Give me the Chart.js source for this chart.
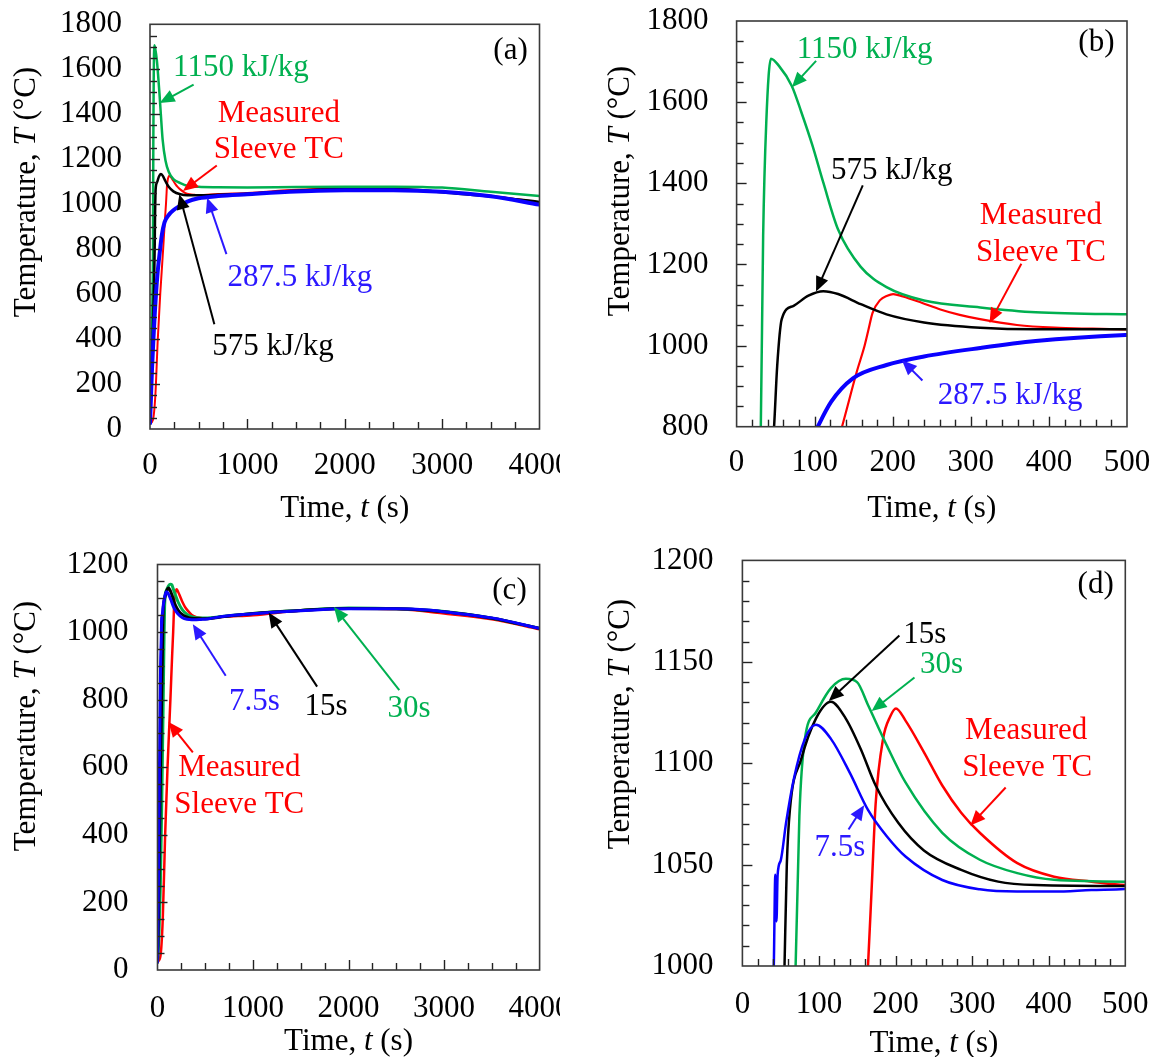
<!DOCTYPE html>
<html><head><meta charset="utf-8">
<script src="https://cdn.jsdelivr.net/npm/chart.js@4.4.1/dist/chart.umd.min.js"></script>
<style>
html,body{margin:0;padding:0;background:#fff;}
#wrap{position:relative;width:1154px;height:1057px;overflow:hidden;background:#fff}
canvas{position:absolute;}
</style></head><body><div id="wrap">
<canvas id="ca" width="560" height="530" style="left:0px;top:0px"></canvas>
<canvas id="cb" width="584" height="530" style="left:570px;top:0px"></canvas>
<canvas id="cc" width="560" height="527" style="left:0px;top:530px"></canvas>
<canvas id="cd" width="584" height="527" style="left:570px;top:530px"></canvas>
</div>
<script>
// ---------------- DATA ----------------
// Panels (a),(b): effect of energy input
const tE1150 = [0, 10, 20, 26, 31, 34, 38, 44, 54, 70.7, 82.6, 97, 111, 130, 159, 192, 240, 312, 383, 498, 700, 1000, 1500, 2000, 2500, 2800, 3000, 3500, 4000];
const TE1150 = [20, 150, 400, 600, 800, 1270, 1550, 1707, 1690, 1640, 1577, 1494, 1402, 1286, 1194, 1144, 1111, 1094, 1082, 1077, 1075, 1074, 1076, 1077, 1077, 1076, 1074, 1055, 1036];
const tE575 = [0, 15, 30, 42, 48, 52, 57.8, 73, 92, 111, 130, 159, 192, 240, 312, 383, 498, 700, 1000, 1500, 2000, 2500, 2800, 3000, 3500, 4000];
const TE575 = [20, 200, 450, 650, 800, 950, 1065, 1098, 1123, 1134, 1127, 1102, 1077, 1057, 1044, 1040, 1040, 1042, 1046, 1060, 1066, 1066, 1062, 1053, 1034, 1010];
const tE287 = [0, 8, 20, 35, 50, 75, 104, 121, 149, 192, 240, 312, 383, 498, 700, 1000, 1500, 2000, 2500, 3000, 3500, 4000];
const TE287 = [20, 120, 260, 400, 520, 680, 800, 861, 919, 952, 973, 994, 1011, 1026, 1036, 1044, 1056, 1062, 1062, 1055, 1035, 998];
// Measured sleeve thermocouple (all panels)
const tMeas = [0, 30, 55, 80, 105, 120, 135, 154, 164, 169, 174, 183.7, 193, 200.5, 213, 237, 261, 285.7, 310, 359, 407, 456, 500, 700, 1000, 1500, 2000, 2500, 3000, 3500, 4000];
const TMeas = [25, 40, 150, 400, 600, 700, 800, 936, 1000, 1040, 1080, 1112, 1123, 1127, 1121, 1105.5, 1089, 1075.6, 1065.7, 1050.7, 1044, 1041.6, 1040, 1045, 1050, 1064, 1070, 1068, 1055, 1038, 1008];
// Panels (c),(d): effect of fill time
const tF75 = [0, 8, 16, 24, 32, 41, 43, 44.5, 46, 50, 57, 67, 81.6, 96, 115.6, 140, 164, 188.5, 213, 261, 310, 358.6, 407, 455.8, 499, 700, 1000, 1500, 2000, 2500, 2837, 3000, 3500, 4000];
const TF75 = [20, 200, 450, 700, 900, 1000, 1045, 1022, 1045, 1052, 1070.6, 1092, 1112, 1119, 1112, 1095.5, 1077, 1064, 1054, 1042.4, 1037.8, 1036.7, 1036.7, 1037.5, 1038, 1047, 1054, 1063, 1069, 1069, 1065, 1060, 1042, 1011];
const tF15 = [0, 10, 20, 35, 48, 55, 58, 62, 76.8, 96, 115.6, 135, 154.5, 174, 203.5, 237, 285.7, 334, 383, 499, 700, 1000, 1500, 2000, 2500, 3000, 3500, 4000];
const TF15 = [20, 150, 350, 650, 880, 1000, 1050, 1077, 1102, 1122, 1130.3, 1122, 1107, 1089, 1070.6, 1057, 1047.4, 1041.6, 1039.9, 1039.4, 1046, 1055, 1064, 1070, 1069, 1060, 1041, 1011];
const tF30 = [0, 15, 30, 45, 60, 69.5, 74.4, 81.6, 96, 115.6, 135, 149.7, 164, 188.5, 213, 261, 310, 359, 407, 499, 700, 1000, 1500, 2000, 2500, 3000, 3500, 4000];
const TF30 = [20, 100, 250, 500, 800, 1000, 1074, 1112, 1125, 1137, 1141.6, 1140, 1128.7, 1108.8, 1090.5, 1065.7, 1052.4, 1045.8, 1042.5, 1041.6, 1047, 1055, 1064, 1071, 1069, 1061, 1041, 1011];
// Axis ticks
const xTicksLong = [0, 1000, 2000, 3000, 4000];
const xTicksShort = [0, 100, 200, 300, 400, 500];
const yTicksA = [0, 200, 400, 600, 800, 1000, 1200, 1400, 1600, 1800];
const yTicksB = [800, 1000, 1200, 1400, 1600, 1800];
const yTicksC = [0, 200, 400, 600, 800, 1000, 1200];
const yTicksD = [1000, 1050, 1100, 1150, 1200];
// Labels
const labE = ['1150 kJ/kg', '575 kJ/kg', '287.5 kJ/kg'];
const labF = ['7.5s', '15s', '30s'];
const labMeas = ['Measured', 'Sleeve TC'];

// ---------------- STYLE ----------------
const FONT = "'Liberation Serif','Times New Roman',serif";
const FS = 31;
const GREEN = '#00B050', RED = '#FF0000', BLUE = '#0A00FF', BLACK = '#000000', BLUET = '#2B18FF';

function pts(ts, Ts){ return ts.map((t,i)=>({x:t, y:Ts[i]})); }
function ds(label, ts, Ts, color, w){
  return {label, data:pts(ts,Ts), borderColor:color, borderWidth:w, pointRadius:0, pointHoverRadius:0,
          fill:false, cubicInterpolationMode:'monotone'};
}

function arrow(ctx, x1, y1, x2, y2, color){
  const ang = Math.atan2(y2-y1, x2-x1), L = 15, W = 6.5;
  const c = Math.cos(ang), s = Math.sin(ang);
  ctx.strokeStyle = color; ctx.fillStyle = color; ctx.lineWidth = 2;
  ctx.beginPath(); ctx.moveTo(x1,y1); ctx.lineTo(x2-L*0.8*c, y2-L*0.8*s); ctx.stroke();
  ctx.beginPath(); ctx.moveTo(x2,y2);
  ctx.lineTo(x2-L*c+W*s, y2-L*s-W*c);
  ctx.lineTo(x2-L*c-W*s, y2-L*s+W*c);
  ctx.closePath(); ctx.fill();
}

function rich(ctx, parts, cx, cy, rot){
  ctx.save();
  ctx.translate(cx, cy); if (rot) ctx.rotate(-Math.PI/2);
  ctx.textBaseline = 'alphabetic'; ctx.fillStyle = '#000';
  let total = 0;
  for (const [t, it] of parts){ ctx.font = (it?'italic ':'') + FS + 'px ' + FONT; total += ctx.measureText(t).width; }
  let x = -total/2;
  for (const [t, it] of parts){ ctx.font = (it?'italic ':'') + FS + 'px ' + FONT; ctx.textAlign='left'; ctx.fillText(t, x, 0); x += ctx.measureText(t).width; }
  ctx.restore();
}

const deco = {
  id: 'deco',
  afterDraw(chart, args, o){
    const ctx = chart.ctx, a = chart.chartArea, xs = chart.scales.x, ys = chart.scales.y;
    ctx.save();
    // inward ticks
    ctx.strokeStyle = '#222'; ctx.lineWidth = 1.4;
    const isMaj = (v, st) => Math.abs(v/st - Math.round(v/st)) < 1e-6;
    for (let v = xs.min + o.xMinor; v < xs.max - 1e-6; v += o.xMinor){
      const px = Math.round(xs.getPixelForValue(v)) + 0.5, L = isMaj(v, o.xStep) ? 10 : 7;
      ctx.beginPath(); ctx.moveTo(px, a.bottom); ctx.lineTo(px, a.bottom - L); ctx.stroke();
    }
    for (let v = ys.min + o.yMinor; v < ys.max - 1e-6; v += o.yMinor){
      const py = Math.round(ys.getPixelForValue(v)) + 0.5, L = isMaj(v - ys.min, o.yStep) ? 10 : 7;
      ctx.beginPath(); ctx.moveTo(a.left, py); ctx.lineTo(a.left + L, py); ctx.stroke();
    }
    // frame
    ctx.strokeStyle = '#3a3a3a'; ctx.lineWidth = 1.6;
    ctx.strokeRect(a.left, a.top, a.right - a.left, a.bottom - a.top);
    // annotations
    ctx.font = FS + 'px ' + FONT; ctx.textBaseline = 'alphabetic';
    for (const n of o.notes){
      if (n.arrow){
        const [x1,y1,x2,y2] = n.arrow;
        arrow(ctx, xs.getPixelForValue(x1), ys.getPixelForValue(y1), xs.getPixelForValue(x2), ys.getPixelForValue(y2), n.color);
      }
      if (n.text){
        ctx.fillStyle = n.color; ctx.textAlign = n.align || 'center';
        ctx.fillText(n.text, xs.getPixelForValue(n.x), ys.getPixelForValue(n.y));
      }
    }
    ctx.restore();
    // axis titles
    rich(ctx, [['Temperature, ',false],['T',true],[' (\u00B0C)',false]], o.yTitle[0], o.yTitle[1], true);
    rich(ctx, [['Time, ',false],['t',true],[' (s)',false]], (a.left + a.right)/2, o.xTitleY, false);
  }
};

function makeChart(id, cfg){
  const tickFont = {family: FONT, size: FS};
  return new Chart(document.getElementById(id), {
    type: 'line',
    data: {datasets: cfg.datasets},
    plugins: [deco],
    options: {
      responsive: false, animation: false, devicePixelRatio: 1,
      layout: {padding: {left: 0, right: cfg.padR, top: cfg.padT, bottom: 0}},
      plugins: {legend: {display: false}, tooltip: {enabled: false},
        deco: {xMinor: cfg.xMinor, xStep: cfg.xTicks[1]-cfg.xTicks[0], yMinor: cfg.yMinor, yStep: cfg.yTicks[1]-cfg.yTicks[0],
               notes: cfg.notes, yTitle: cfg.yTitle, xTitleY: cfg.xTitleY}},
      scales: {
        x: {type: 'linear', min: cfg.xTicks[0], max: cfg.xTicks[cfg.xTicks.length-1],
            grid: {display: false, drawTicks: false}, border: {display: false},
            afterBuildTicks: s => { s.ticks = cfg.xTicks.map(v => ({value: v})); },
            ticks: {font: tickFont, color: '#000', padding: cfg.xPad, autoSkip: false, maxRotation: 0, callback: v => String(v)},
            afterFit: s => { s.height = cfg.xAxisH; s.paddingLeft = 0; s.paddingRight = 0; }},
        y: {type: 'linear', min: cfg.yTicks[0], max: cfg.yTicks[cfg.yTicks.length-1],
            grid: {display: false, drawTicks: false}, border: {display: false},
            afterBuildTicks: s => { s.ticks = cfg.yTicks.map(v => ({value: v})); },
            ticks: {font: tickFont, color: '#000', padding: cfg.yPad, autoSkip: false, callback: v => String(v)},
            afterFit: s => { s.width = cfg.yAxisW; s.paddingTop = 0; s.paddingBottom = 0; }}
      }
    }
  });
}

// (a)
makeChart('ca', {
  xTicks: xTicksLong, yTicks: yTicksA, xMinor: 250, yMinor: 50,
  yAxisW: 150, padR: 20.5, padT: 24.3, xAxisH: 101, xPad: 18, yPad: 28,
  yTitle: [24+11, 192], xTitleY: 517,
  datasets: [
    ds(labE[2], tE287, TE287, BLUE, 4),
    ds(labE[1], tE575, TE575, BLACK, 2.5),
    ds(labE[0], tE1150, TE1150, GREEN, 2.5),
    ds(labMeas.join(' '), tMeas, TMeas, RED, 2)
  ],
  notes: [
    {text: labE[0], color: GREEN, x: 934, y: 1570, arrow: [448, 1532, 99, 1450]},
    {text: labMeas[0], color: RED, x: 1323, y: 1367},
    {text: labMeas[1], color: RED, x: 1323, y: 1205, arrow: [686, 1172, 338, 1059]},
    {text: labE[2], color: BLUET, x: 1539, y: 634, arrow: [785, 778, 587, 1029]},
    {text: labE[1], color: BLACK, x: 1264, y: 331, arrow: [661, 466, 301, 1044]},
    {text: '(a)', color: BLACK, x: 3879, y: 1645, align: 'right'}
  ]
});

// (b)
makeChart('cb', {
  xTicks: xTicksShort, yTicks: yTicksB, xMinor: 20, yMinor: 50,
  yAxisW: 166.6, padR: 27, padT: 21, xAxisH: 103.3, xPad: 18, yPad: 28,
  yTitle: [47.5+11, 191], xTitleY: 517,
  datasets: [
    ds(labE[2], tE287, TE287, BLUE, 4),
    ds(labE[1], tE575, TE575, BLACK, 2.5),
    ds(labE[0], tE1150, TE1150, GREEN, 2.5),
    ds(labMeas.join(' '), tMeas, TMeas, RED, 2.2)
  ],
  notes: [
    {text: labE[0], color: GREEN, x: 164, y: 1710, arrow: [101.8, 1701.7, 70.8, 1636.7]},
    {text: labE[1], color: BLACK, x: 198.6, y: 1410, arrow: [161.6, 1395, 101.8, 1133]},
    {text: labMeas[0], color: RED, x: 389.8, y: 1300},
    {text: labMeas[1], color: RED, x: 389.8, y: 1208, arrow: [364.7, 1201.7, 324, 1055.8]},
    {text: labE[2], color: BLUET, x: 350.4, y: 855.8, arrow: [238, 914, 211.8, 964]},
    {text: '(b)', color: BLACK, x: 484, y: 1726.7, align: 'right'}
  ]
});

// (c)
makeChart('cc', {
  xTicks: xTicksLong, yTicks: yTicksC, xMinor: 250, yMinor: 50,
  yAxisW: 157.5, padR: 20.4, padT: 34.5, xAxisH: 87, xPad: 20, yPad: 29,
  yTitle: [24+11, 196], xTitleY: 520,
  datasets: [
    ds(labF[0], tF75, TF75, BLUE, 3),
    ds(labF[1], tF15, TF15, BLACK, 3),
    ds(labF[2], tF30, TF30, GREEN, 3),
    ds(labMeas.join(' '), tMeas, TMeas, RED, 2.5)
  ],
  notes: [
    {text: labF[0], color: BLUET, x: 1015, y: 769, arrow: [714, 871, 370, 1023]},
    {text: labF[1], color: BLACK, x: 1763, y: 756, arrow: [1671, 838.5, 1163, 1057.6]},
    {text: labF[2], color: GREEN, x: 2632, y: 749, arrow: [2531, 828.5, 1847, 1074.5]},
    {text: labMeas[0], color: RED, x: 856, y: 574.6, arrow: [370, 644, 116, 734]},
    {text: labMeas[1], color: RED, x: 856, y: 465},
    {text: '(c)', color: BLACK, x: 3865, y: 1097, align: 'right'}
  ]
});

// (d)
makeChart('cd', {
  xTicks: xTicksShort, yTicks: yTicksD, xMinor: 20, yMinor: 10,
  yAxisW: 172.4, padR: 28.7, padT: 30.4, xAxisH: 91, xPad: 20, yPad: 29,
  yTitle: [47.5+11, 194], xTitleY: 522,
  datasets: [
    ds(labF[0], tF75, TF75, BLUE, 2.5),
    ds(labF[1], tF15, TF15, BLACK, 2.5),
    ds(labF[2], tF30, TF30, GREEN, 2.5),
    ds(labMeas.join(' '), tMeas, TMeas, RED, 2.5)
  ],
  notes: [
    {text: labF[1], color: BLACK, x: 238, y: 1159.4, arrow: [205, 1163, 112.8, 1130.7]},
    {text: labF[2], color: GREEN, x: 260, y: 1144.4, arrow: [224.7, 1142.3, 168.8, 1125.7]},
    {text: labMeas[0], color: RED, x: 370.6, y: 1112},
    {text: labMeas[1], color: RED, x: 371.8, y: 1093.9, arrow: [343.8, 1088, 297.7, 1069.3]},
    {text: labF[0], color: BLUET, x: 127.4, y: 1054, arrow: [138.6, 1067.3, 159, 1079.3]},
    {text: '(d)', color: BLACK, x: 484.9, y: 1184, align: 'right'}
  ]
});
</script>
</body></html>
